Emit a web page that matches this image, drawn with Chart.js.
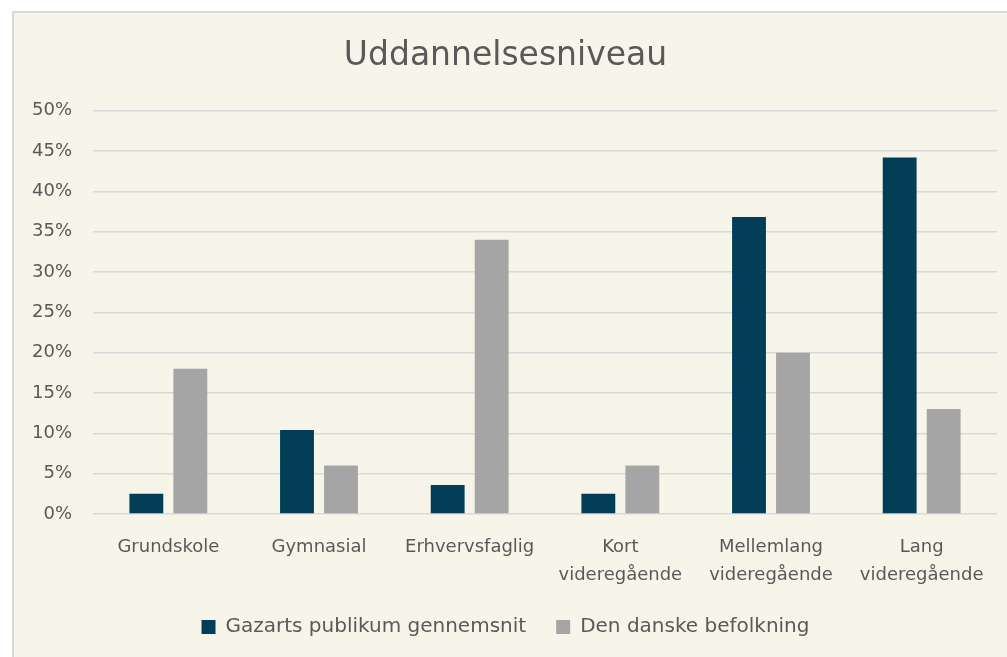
<!DOCTYPE html>
<html>
<head>
<meta charset="utf-8">
<script src="https://cdn.jsdelivr.net/npm/chart.js@4"></script>
<style>
  html, body { margin: 0; padding: 0; background: #ffffff; overflow: hidden; }
  #box {
    position: absolute; left: 12px; top: 11px;
    width: 1000px; height: 650px;
    border: 2px solid #d9d9d9;
    background: #f7f5e9;
  }
</style>
</head>
<body>
<div id="box"><canvas id="myChart"></canvas></div>
<script>
const categories = [
  'Grundskole',
  'Gymnasial',
  'Erhvervsfaglig',
  ['Kort', 'videregående'],
  ['Mellemlang', 'videregående'],
  ['Lang', 'videregående'],
];
const gazartsValues = [2.5, 10.4, 3.6, 2.5, 36.8, 44.2];
const danskeValues = [18, 6, 34, 6, 20, 13];
const yTicks = [0, 5, 10, 15, 20, 25, 30, 35, 40, 45, 50];

const textColor = '#595959';
const fontFamily = '"DejaVu Sans", sans-serif';

const ctx = document.getElementById('myChart');

new Chart(ctx, {
  type: 'bar',
  data: {
    labels: categories,
    datasets: [
      {
        label: 'Gazarts publikum gennemsnit',
        data: gazartsValues,
        backgroundColor: '#023f57',
        categoryPercentage: 0.584,
        barPercentage: 0.77,
      },
      {
        label: 'Den danske befolkning',
        data: danskeValues,
        backgroundColor: '#a5a5a5',
        categoryPercentage: 0.584,
        barPercentage: 0.77,
      },
    ],
  },
  options: {
    responsive: true,
    maintainAspectRatio: false,
    animation: false,
    layout: { padding: { left: 0, right: 17, top: 24, bottom: 16 } },
    plugins: {
      title: {
        display: true,
        text: 'Uddannelsesniveau',
        color: textColor,
        font: { family: fontFamily, size: 33, weight: 'normal' },
        padding: { top: 0, bottom: 34 },
      },
      legend: {
        position: 'bottom',
        labels: {
          color: textColor,
          font: { family: fontFamily, size: 20 },
          boxWidth: 14,
          boxHeight: 14,
          padding: 30,
        },
      },
      tooltip: { enabled: false },
    },
    scales: {
      x: {
        grid: { display: false },
        border: { display: false },
        afterFit: (scale) => {
          scale.height = 73;
        },
        ticks: {
          color: textColor,
          font: { family: fontFamily, size: 18, lineHeight: 1.55 },
          maxRotation: 0,
          autoSkip: false,
          padding: 11,
        },
      },
      y: {
        min: 0,
        max: 50,
        afterBuildTicks: (scale) => {
          scale.ticks = yTicks.map((v) => ({ value: v }));
        },
        afterFit: (scale) => {
          scale.width = 79;
        },
        grid: { color: '#d9d9d9', lineWidth: 1.5, drawTicks: false },
        border: { display: false },
        ticks: {
          color: textColor,
          font: { family: fontFamily, size: 18 },
          padding: 21,
          callback: (v) => v + '%',
        },
      },
    },
  },
});
</script>
</body>
</html>
